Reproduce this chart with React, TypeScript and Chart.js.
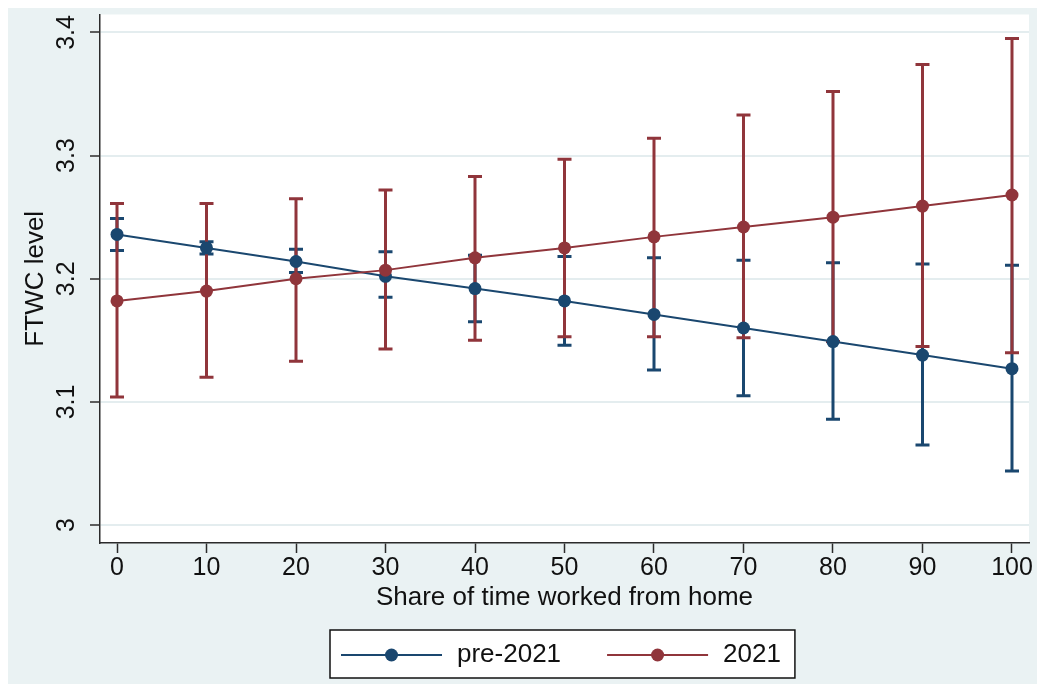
import React, { useEffect, useRef } from "react";
import { Chart, registerables } from "chart.js";

Chart.register(...registerables);

// ---- data ----
const xValues = [0, 10, 20, 30, 40, 50, 60, 70, 80, 90, 100];
const xTickValues = [0, 10, 20, 30, 40, 50, 60, 70, 80, 90, 100];
const yTickValues = [3, 3.1, 3.2, 3.3, 3.4];

const pre2021 = [3.236, 3.225, 3.214, 3.202, 3.192, 3.182, 3.171, 3.160, 3.149, 3.138, 3.127];
const pre2021Lower = [3.223, 3.220, 3.205, 3.185, 3.165, 3.146, 3.126, 3.105, 3.086, 3.065, 3.044];
const pre2021Upper = [3.249, 3.230, 3.224, 3.222, 3.219, 3.218, 3.217, 3.215, 3.213, 3.212, 3.211];

const y2021 = [3.182, 3.190, 3.200, 3.207, 3.217, 3.225, 3.234, 3.242, 3.250, 3.259, 3.268];
const y2021Lower = [3.104, 3.120, 3.133, 3.143, 3.150, 3.153, 3.153, 3.152, 3.149, 3.145, 3.140];
const y2021Upper = [3.261, 3.261, 3.265, 3.272, 3.283, 3.297, 3.314, 3.333, 3.352, 3.374, 3.395];

const seriesLabels = ["pre-2021", "2021"];
const xTitle = "Share of time worked from home";
const yTitle = "FTWC level";

const BLUE = "#1a476f";
const RED = "#90353b";
const BG = "#eaf2f3";
const GRID = "#e4edef";
const AXIS = "#2b2b2b";
const FONT = '"Liberation Sans", Arial, sans-serif';

const series = [
  { label: seriesLabels[0], color: BLUE, values: pre2021, lower: pre2021Lower, upper: pre2021Upper, order: 1 },
  { label: seriesLabels[1], color: RED, values: y2021, lower: y2021Lower, upper: y2021Upper, order: 0 },
];

export default function App() {
  const ref = useRef<HTMLCanvasElement>(null);

  useEffect(() => {
    const canvas = ref.current;
    if (!canvas) return;

    const background = {
      id: "background",
      beforeDraw(chart: any) {
        const { ctx, chartArea, width, height } = chart;
        ctx.save();
        ctx.fillStyle = BG;
        ctx.fillRect(0, 0, width, height);
        ctx.fillStyle = "#ffffff";
        ctx.fillRect(chartArea.left, chartArea.top, chartArea.right - chartArea.left, chartArea.bottom - chartArea.top);
        ctx.restore();
      },
    };

    const errorBars = {
      id: "errorBars",
      beforeDatasetsDraw(chart: any) {
        const { ctx, scales } = chart;
        const xs = scales.x;
        const ys = scales.y;
        ctx.save();
        ctx.lineWidth = 3;
        ctx.lineCap = "butt";
        for (const s of series) {
          ctx.strokeStyle = s.color;
          xValues.forEach((xv, i) => {
            const px = xs.getPixelForValue(xv);
            const lo = ys.getPixelForValue(s.lower[i]);
            const hi = ys.getPixelForValue(s.upper[i]);
            const cap = 7;
            ctx.beginPath();
            ctx.moveTo(px, lo);
            ctx.lineTo(px, hi);
            ctx.moveTo(px - cap, lo);
            ctx.lineTo(px + cap, lo);
            ctx.moveTo(px - cap, hi);
            ctx.lineTo(px + cap, hi);
            ctx.stroke();
          });
        }
        ctx.restore();
      },
    };

    const legendBox = {
      id: "legendBox",
      afterDraw(chart: any) {
        const { ctx, chartArea, height } = chart;
        ctx.save();
        ctx.font = `26px ${FONT}`;
        const pad = 11;
        const lineLen = 101;
        const textGap = 15;
        const entryGap = 46;
        const rightPad = 14;
        const widths = series.map((s) => ctx.measureText(s.label).width);
        let boxW = pad + rightPad;
        widths.forEach((w, i) => {
          boxW += lineLen + textGap + w + (i < widths.length - 1 ? entryGap : 0);
        });
        const boxH = 48;
        const boxX = Math.round((chartArea.left + chartArea.right) / 2 - boxW / 2) - 2;
        const boxY = height - 6 - boxH;
        ctx.fillStyle = "#ffffff";
        ctx.fillRect(boxX, boxY, boxW, boxH);
        ctx.strokeStyle = "#111";
        ctx.lineWidth = 1.5;
        ctx.strokeRect(boxX, boxY, boxW, boxH);
        const cy = boxY + 25;
        let cx = boxX + pad;
        series.forEach((s, i) => {
          ctx.strokeStyle = s.color;
          ctx.lineWidth = 2;
          ctx.beginPath();
          ctx.moveTo(cx, cy);
          ctx.lineTo(cx + lineLen, cy);
          ctx.stroke();
          ctx.fillStyle = s.color;
          ctx.beginPath();
          ctx.arc(cx + lineLen / 2, cy, 6.5, 0, Math.PI * 2);
          ctx.fill();
          ctx.fillStyle = "#111";
          ctx.textAlign = "left";
          ctx.textBaseline = "middle";
          ctx.fillText(s.label, cx + lineLen + textGap, cy);
          cx += lineLen + textGap + widths[i] + entryGap;
        });
        ctx.restore();
      },
    };

    const chart = new Chart(canvas, {
      type: "line",
      data: {
        datasets: series.map((s) => ({
          label: s.label,
          data: xValues.map((x, i) => ({ x, y: s.values[i] })),
          borderColor: s.color,
          backgroundColor: s.color,
          borderWidth: 2,
          pointRadius: 6.5,
          pointBorderWidth: 0,
          pointBackgroundColor: s.color,
          order: s.order,
          tension: 0,
        })),
      },
      options: {
        animation: false,
        responsive: false,
        devicePixelRatio: 1,
        layout: { padding: { top: 4, right: 8, left: 0, bottom: 0 } },
        plugins: {
          legend: { display: false },
          tooltip: { enabled: false },
        },
        scales: {
          x: {
            type: "linear",
            min: -1.9,
            max: 101.9,
            afterBuildTicks: (scale: any) => {
              scale.ticks = xTickValues.map((v) => ({ value: v }));
            },
            afterFit: (scale: any) => {
              scale.height = 141;
              scale.paddingLeft = 0;
              scale.paddingRight = 0;
            },
            grid: {
              drawOnChartArea: false,
              drawTicks: true,
              tickLength: 10,
              tickColor: AXIS,
              tickWidth: 1.5,
            },
            border: { display: true, color: AXIS, width: 1.5 },
            ticks: {
              font: { family: FONT, size: 25 },
              color: "#111",
              padding: 0,
              maxRotation: 0,
              autoSkip: false,
            },
            title: {
              display: true,
              text: xTitle,
              font: { family: FONT, size: 26 },
              color: "#111",
              padding: { top: 0, bottom: 71 },
            },
          },
          y: {
            type: "linear",
            min: 2.98545,
            max: 3.41455,
            afterBuildTicks: (scale: any) => {
              scale.ticks = yTickValues.map((v) => ({ value: v }));
            },
            afterFit: (scale: any) => {
              scale.width = 92;
              scale.paddingTop = 0;
              scale.paddingBottom = 0;
            },
            grid: {
              color: GRID,
              lineWidth: 2,
              drawTicks: true,
              tickLength: 10,
              tickColor: AXIS,
              tickWidth: 1.5,
            },
            border: { display: true, color: AXIS, width: 1.5 },
            ticks: {
              font: { family: FONT, size: 25 },
              color: "#111",
              minRotation: 90,
              maxRotation: 90,
              crossAlign: "center",
              padding: 6,
              autoSkip: false,
              callback: (v: any) => String(Math.round(Number(v) * 10) / 10),
            },
            title: {
              display: true,
              text: yTitle,
              font: { family: FONT, size: 26 },
              color: "#111",
              padding: { top: 12, bottom: 0 },
            },
          },
        },
      },
      plugins: [background, errorBars, legendBox],
    });

    return () => chart.destroy();
  }, []);

  return (
    <canvas
      ref={ref}
      width={1029}
      height={676}
      style={{ display: "block", position: "fixed", left: "8px", top: "8px", width: "1029px", height: "676px" }}
    />
  );
}
